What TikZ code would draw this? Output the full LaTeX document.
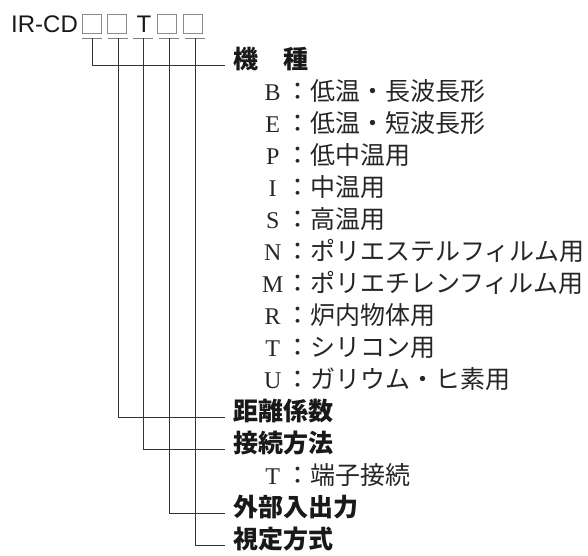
\documentclass[tikz,border=0pt]{standalone}
\usepackage{fontspec}
\setmainfont{Liberation Sans}
\newfontfamily\jp{Noto Sans CJK JP}
\newfontfamily\serifltr{Liberation Serif}
\usetikzlibrary{positioning}
\newcommand{\key}[1]{\makebox[25pt]{\serifltr\fontsize{24}{28}\selectfont #1}}
\tikzset{
x=1pt, y=-1pt, % pixel-like coordinates, y pointing down
head/.style={anchor=west, inner xsep=8pt, inner ysep=0pt, text height=0.88em, text depth=0.12em,
  font=\jp\bfseries\fontsize{25}{30}\selectfont, text=black!90},
item/.style={anchor=west, inner sep=0pt, text height=0.88em, text depth=0.12em,
  font=\jp\fontsize{25}{30}\selectfont, text=black!85},
code/.style={anchor=base, inner sep=0pt, font=\fontsize{24}{28}\selectfont, text=black!90},
sq/.style={draw=black!45, line width=0.8pt, minimum width=19pt, minimum height=19pt, inner sep=0pt},
uline/.style={draw=black!50, line width=0.8pt},
link/.style={draw=black!80, line width=0.8pt},
}
\begin{document}
\begin{tikzpicture}
    \useasboundingbox (0,0) rectangle (588,555);
    % model code
    \node[code, anchor=base west] (ircd) at (11,32) {IR-CD};
    \node[sq] (b1) at (92,24) {};
    \node[sq] (b2) at (117,24) {};
    \node[code] (t) at (144,32) {T};
    \node[sq] (b3) at (167,24) {};
    \node[sq] (b4) at (193,24) {};
    \coordinate (v1) at (92,38);
    \coordinate (v2) at (118,38);
    \coordinate (v3) at (143,38);
    \coordinate (v4) at (169,38);
    \coordinate (v5) at (195,38);
    % headings
    \node[head] (kishu) at (225,65) {機　種};
    \node[head] (kyori) at (225,417) {距離係数};
    \node[head] (setsu) at (225,449) {接続方法};
    \node[head] (gaibu) at (225,513) {外部入出力};
    \node[head] (shitei) at (225,545) {視定方式};
    % items
    \node[item] (kB) at (260,97) {\key{B}：低温・長波長形};
    \node[item] (kE) at (260,129) {\key{E}：低温・短波長形};
    \node[item] (kP) at (260,161) {\key{P}：低中温用};
    \node[item] (kI) at (260,193) {\key{I}：中温用};
    \node[item] (kS) at (260,225) {\key{S}：高温用};
    \node[item] (kN) at (260,257) {\key{N}：ポリエステルフィルム用};
    \node[item] (kM) at (260,289) {\key{M}：ポリエチレンフィルム用};
    \node[item] (kR) at (260,321) {\key{R}：炉内物体用};
    \node[item] (kT) at (260,353) {\key{T}：シリコン用};
    \node[item] (kU) at (260,385) {\key{U}：ガリウム・ヒ素用};
    \node[item] (sT) at (260,481) {\key{T}：端子接続};
    % underlines
    \draw[uline]
    ([xshift=-10pt]v1) -- ([xshift=10pt]v1)
    ([xshift=-10pt]v2) -- ([xshift=10pt]v2)
    ([xshift=-10pt]v3) -- ([xshift=10pt]v3)
    ([xshift=-10pt]v4) -- ([xshift=10pt]v4)
    ([xshift=-10pt]v5) -- ([xshift=10pt]v5);
    % leaders
    \draw[link]
    (v1) |- (kishu.west)
    (v2) |- (kyori.west)
    (v3) |- (setsu.west)
    (v4) |- (gaibu.west)
    (v5) |- (shitei.west);
\end{tikzpicture}
\end{document}
